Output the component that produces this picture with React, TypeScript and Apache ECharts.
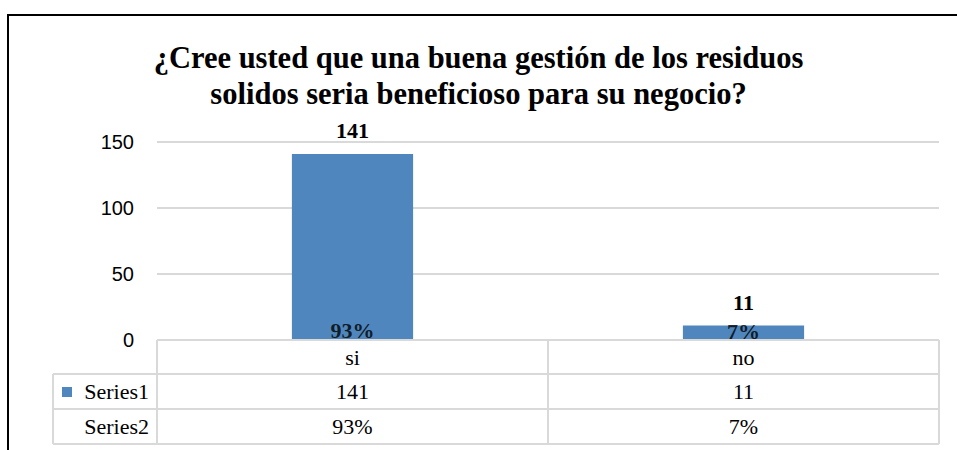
import React, { useEffect, useRef } from "react";
import * as echarts from "echarts";

const categories = ["si", "no"];
const series1 = [141, 11];
const series2 = [0.93, 0.07];
const series2Text = ["93%", "7%"];
const rowNames = ["Series1", "Series2"];
const yMin = 0;
const yMax = 150;
const yInterval = 50;
const titleText =
  "¿Cree usted que una buena gestión de los residuos\nsolidos seria beneficioso para su negocio?";

const W = 957;
const H = 450;
const BAR_COLOR = "#4f86bd";
const GRID_L = 157;
const GRID_R = 939;
const GRID_TOP = 142;
const GRID_BOTTOM_Y = 340;
const ROW_Y = [340, 374, 409, 444];
const TABLE_L = 53;
const LINE_COLOR = "#d9d9d9";
const SERIF = "Liberation Serif";
const SANS = "Liberation Sans";

function buildGraphic() {
  const els: any[] = [];
  els.push({
    type: "rect",
    shape: { x: 8, y: 15, width: 1200, height: 1000 },
    style: { fill: "none", stroke: "#000", lineWidth: 2 },
    silent: true,
    z: 0,
  });
  const line = (x1: number, y1: number, x2: number, y2: number) => ({
    type: "line",
    shape: { x1, y1, x2, y2 },
    style: { stroke: LINE_COLOR, lineWidth: 2 },
    silent: true,
    z: 20,
  });
  const n = categories.length;
  const cw = (GRID_R - GRID_L) / n;
  els.push(line(GRID_L, ROW_Y[0], GRID_R, ROW_Y[0]));
  for (let i = 1; i < ROW_Y.length; i++) els.push(line(TABLE_L, ROW_Y[i], GRID_R, ROW_Y[i]));
  els.push(line(TABLE_L, ROW_Y[1], TABLE_L, ROW_Y[3]));
  for (let i = 0; i <= n; i++) {
    const x = GRID_L + i * cw;
    els.push(line(x, ROW_Y[0], x, ROW_Y[3]));
  }
  const txt = (text: string, x: number, y: number, align: string) => ({
    type: "text",
    x,
    y,
    style: {
      text,
      fill: "#000",
      fontFamily: SERIF,
      fontSize: 22,
      align,
      verticalAlign: "middle",
    },
    silent: true,
    z: 20,
  });
  const rowValues = [series1.map(String), series2Text];
  categories.forEach((c, i) => {
    const cx = GRID_L + (i + 0.5) * cw;
    els.push(txt(c, cx, (ROW_Y[0] + ROW_Y[1]) / 2, "center"));
    rowValues.forEach((vals, r) => {
      els.push(txt(vals[i], cx, (ROW_Y[r + 1] + ROW_Y[r + 2]) / 2, "center"));
    });
  });
  rowNames.forEach((name, r) => {
    els.push(txt(name, 149, (ROW_Y[r + 1] + ROW_Y[r + 2]) / 2, "right"));
  });
  els.push({
    type: "rect",
    shape: { x: 62, y: 387, width: 10, height: 10 },
    style: { fill: BAR_COLOR },
    silent: true,
    z: 20,
  });
  return els;
}

export default function App() {
  const ref = useRef<HTMLDivElement>(null);
  useEffect(() => {
    document.body.style.margin = "0";
    if (!ref.current) return;
    const chart = echarts.init(ref.current, null, { renderer: "svg" });
    chart.setOption({
      animation: false,
      backgroundColor: "#fff",
      title: {
        text: titleText,
        left: "center",
        top: 35,
        textStyle: {
          fontFamily: SERIF,
          fontWeight: "bold",
          fontSize: 30.5,
          lineHeight: 36,
          color: "#000",
        },
      },
      grid: {
        left: GRID_L,
        right: W - GRID_R,
        top: GRID_TOP,
        bottom: H - GRID_BOTTOM_Y,
        containLabel: false,
      },
      xAxis: {
        type: "category",
        data: categories,
        axisLine: { show: false },
        axisTick: { show: false },
        axisLabel: { show: false },
      },
      yAxis: {
        type: "value",
        min: yMin,
        max: yMax,
        interval: yInterval,
        axisLine: { show: false },
        axisTick: { show: false },
        axisLabel: {
          fontFamily: SANS,
          fontSize: 20,
          color: "#000",
          margin: 23,
        },
        splitLine: { lineStyle: { color: LINE_COLOR, width: 2 } },
      },
      series: [
        {
          name: rowNames[0],
          type: "bar",
          data: series1,
          barWidth: "31%",
          itemStyle: { color: BAR_COLOR },
          label: {
            show: true,
            position: "top",
            distance: 12,
            fontFamily: SERIF,
            fontWeight: "bold",
            fontSize: 22,
            color: "#000",
          },
          z: 2,
        },
        {
          name: rowNames[1],
          type: "scatter",
          data: series2,
          symbolSize: 2,
          itemStyle: { color: "rgba(0,0,0,0)" },
          label: {
            show: true,
            position: "top",
            distance: -4,
            formatter: (p: any) => series2Text[p.dataIndex],
            fontFamily: SERIF,
            fontWeight: "bold",
            fontSize: 22,
            color: "#000",
          },
          z: 3,
        },
      ],
      graphic: buildGraphic(),
    });
    return () => chart.dispose();
  }, []);
  return <div ref={ref} style={{ width: W, height: H }} />;
}
